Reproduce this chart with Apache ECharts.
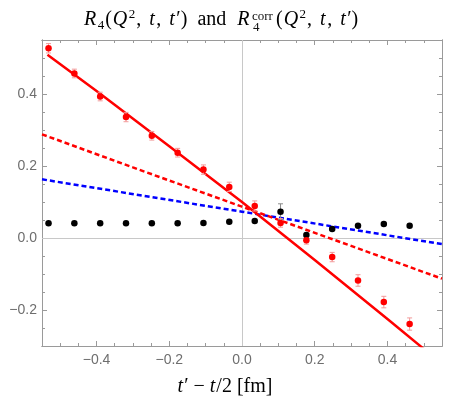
<!DOCTYPE html>
<html>
<head>
<meta charset="utf-8">
<script src="https://cdn.jsdelivr.net/npm/echarts@6/dist/echarts.min.js"></script>
<style>
html, body { margin: 0; padding: 0; background: #fff; }
#main { width: 462px; height: 415px; }
</style>
</head>
<body>
<div id="main"></div>
<script>
// t' - t/2 positions [fm]
var tValues = [-0.532, -0.461, -0.390, -0.319, -0.248, -0.177, -0.106, -0.035,
               0.035, 0.106, 0.177, 0.248, 0.319, 0.390, 0.461];
// R4 (red) and R4corr (black) with errors
var r4Values = [0.527, 0.457, 0.393, 0.336, 0.284, 0.237, 0.190, 0.142,
                0.089, 0.042, -0.006, -0.053, -0.118, -0.178, -0.239];
var r4Errors = [0.013, 0.012, 0.012, 0.013, 0.012, 0.012, 0.013, 0.013,
                0.014, 0.012, 0.011, 0.013, 0.016, 0.016, 0.017];
var corrValues = [0.041, 0.041, 0.041, 0.041, 0.041, 0.041, 0.042, 0.045,
                  0.047, 0.073, 0.008, 0.025, 0.034, 0.039, 0.034];
var corrErrors = [0.002, 0.002, 0.002, 0.002, 0.002, 0.002, 0.002, 0.003,
                  0.004, 0.022, 0.005, 0.004, 0.003, 0.003, 0.003];

// fit curves
var fitSolidX = [-0.535, -0.4, -0.2, 0, 0.2, 0.4, 0.5];
var fitSolidY = [0.509, 0.408, 0.255, 0.100, -0.061, -0.225, -0.308];
var fitRedX = [-0.55, -0.3, 0, 0.3, 0.55];
var fitRedY = [0.288, 0.196, 0.087, -0.022, -0.113];
var fitBlueX = [-0.55, 0, 0.55];
var fitBlueY = [0.163, 0.073, -0.017];

// ticks
var xMajor = [-0.4, -0.2, 0, 0.2, 0.4];
var xMinor = [-0.5, -0.45, -0.35, -0.3, -0.25, -0.15, -0.1, -0.05,
              0.05, 0.1, 0.15, 0.25, 0.3, 0.35, 0.45, 0.5];
var yMajor = [-0.2, 0, 0.2, 0.4];
var yMinor = [-0.25, -0.15, -0.1, -0.05, 0.05, 0.1, 0.15, 0.25, 0.3, 0.35, 0.45, 0.5];

var axisGray = '#9a9a9a';
var serif = 'Liberation Serif';

function fmt(v) {
    return v.toFixed(1).replace('-', '\u2212');
}

function makeAxis(dim, pos, ticks, len, withLabels) {
    var ax = {
        type: 'value',
        position: pos,
        min: dim === 'x' ? -0.55 : -0.3,
        max: 0.55,
        axisLine: { show: true, onZero: false, lineStyle: { color: axisGray, width: 1 } },
        axisTick: { show: true, inside: true, length: len, customValues: ticks,
                    lineStyle: { color: axisGray, width: 1 } },
        axisLabel: { show: withLabels },
        splitLine: { show: false }
    };
    if (withLabels) {
        ax.axisLabel = {
            show: true, customValues: ticks, formatter: fmt,
            color: '#6e6e6e', fontSize: 14, fontFamily: 'Liberation Sans',
            margin: dim === 'x' ? 7 : 5
        };
    }
    return ax;
}

function pairs(xs, ys) {
    return xs.map(function (x, i) { return [x, ys[i]]; });
}

function errorBars(vals, errs, color) {
    var data = tValues.map(function (t, i) { return [t, vals[i] - errs[i], vals[i] + errs[i]]; });
    return {
        type: 'custom',
        data: data,
        silent: true,
        z: 3,
        encode: { x: 0, y: [1, 2] },
        renderItem: function (params, api) {
            var top = api.coord([api.value(0), api.value(2)]);
            var bot = api.coord([api.value(0), api.value(1)]);
            var hw = 2.5;
            var st = { stroke: color, lineWidth: 1 };
            return {
                type: 'group',
                children: [
                    { type: 'line', shape: { x1: top[0], y1: top[1], x2: bot[0], y2: bot[1] }, style: st },
                    { type: 'line', shape: { x1: top[0] - hw, y1: top[1], x2: top[0] + hw, y2: top[1] }, style: st },
                    { type: 'line', shape: { x1: bot[0] - hw, y1: bot[1], x2: bot[0] + hw, y2: bot[1] }, style: st }
                ]
            };
        }
    };
}

// rich styles for the math-looking title (wider spacing, like TeX)
var titleRich = {
    n: { fontFamily: serif, fontSize: 20, lineHeight: 24, color: '#111' },
    c: { fontFamily: serif, fontSize: 20, lineHeight: 24, color: '#111', padding: [0, 2, 0, 0] },
    i: { fontFamily: serif, fontSize: 20, fontStyle: 'italic', lineHeight: 24, color: '#111', padding: [0, 1.5, 0, 1] },
    sub: { fontFamily: serif, fontSize: 13, lineHeight: 9, verticalAlign: 'bottom', color: '#111', padding: [0, 1, 0, 0] },
    sup: { fontFamily: serif, fontSize: 13, lineHeight: 19, verticalAlign: 'top', color: '#111', padding: [0, 1, 0, 0] }
};
var nameRich = {
    n: { fontFamily: serif, fontSize: 20, lineHeight: 24, color: '#111' },
    i: { fontFamily: serif, fontSize: 20, fontStyle: 'italic', lineHeight: 24, color: '#111', padding: [0, 1, 0, 0] }
};

var myChart = echarts.init(document.getElementById('main'));
var option = {
    animation: false,
    backgroundColor: '#fff',
    grid: { left: 42, right: 20, top: 40, bottom: 69 },
    xAxis: [
        makeAxis('x', 'bottom', xMajor, 5, true),
        makeAxis('x', 'bottom', xMinor, 3, false),
        makeAxis('x', 'top', xMajor, 5, false),
        makeAxis('x', 'top', xMinor, 3, false)
    ],
    yAxis: [
        makeAxis('y', 'left', yMajor, 5, true),
        makeAxis('y', 'left', yMinor, 3, false),
        makeAxis('y', 'right', yMajor, 5, false),
        makeAxis('y', 'right', yMinor, 3, false)
    ],
    graphic: [
        {
            type: 'text', x: 251, y: 19.7,
            style: {
                text: '{i|R}{sub|4}{n|(}{i|Q}{sup|2}{c|, }{i|t}{c|, }{i|t}{n|\u2032)  and  }{i|R}',
                rich: titleRich, align: 'right', verticalAlign: 'middle'
            }
        },
        { type: 'text', x: 252, y: 16.5,
          style: { text: 'corr', fontFamily: serif, fontSize: 13, fill: '#111', align: 'left', verticalAlign: 'middle' } },
        { type: 'text', x: 253, y: 27.5,
          style: { text: '4', fontFamily: serif, fontSize: 13, fill: '#111', align: 'left', verticalAlign: 'middle' } },
        {
            type: 'text', x: 276, y: 19.7,
            style: {
                text: '{n|(}{i|Q}{sup|2}{c|, }{i|t}{c|, }{i|t}{n|\u2032)}',
                rich: titleRich, align: 'left', verticalAlign: 'middle'
            }
        },
        {
            type: 'text', x: 225, y: 387,
            style: {
                text: '{i|t}{n|\u2032 \u2212 }{i|t}{n|/2 [fm]}',
                rich: nameRich, align: 'center', verticalAlign: 'middle'
            }
        }
    ],
    series: [
        {
            type: 'scatter',
            name: 'R4corr',
            data: pairs(tValues, corrValues),
            symbolSize: 6.5,
            itemStyle: { color: '#000', opacity: 1 },
            z: 4,
            markLine: {
                silent: true,
                symbol: ['none', 'none'],
                label: { show: false },
                lineStyle: { color: '#c8c8c8', width: 1, type: 'solid' },
                data: [{ xAxis: 0 }, { yAxis: 0 }],
                z: 1
            }
        },
        errorBars(corrValues, corrErrors, '#8a8a8a'),
        errorBars(r4Values, r4Errors, '#f29a9a'),
        {
            type: 'line', name: 'fit blue',
            data: pairs(fitBlueX, fitBlueY),
            showSymbol: false, clip: true, z: 2,
            lineStyle: { color: '#0000ff', width: 2.5, type: [5, 3] }
        },
        {
            type: 'line', name: 'fit red dashed',
            data: pairs(fitRedX, fitRedY),
            showSymbol: false, clip: true, z: 2,
            lineStyle: { color: '#ff0000', width: 2.5, type: [5, 3] }
        },
        {
            type: 'line', name: 'fit red',
            data: pairs(fitSolidX, fitSolidY),
            showSymbol: false, clip: true, z: 2,
            lineStyle: { color: '#ff0000', width: 2.5 }
        },
        {
            type: 'scatter',
            name: 'R4',
            data: pairs(tValues, r4Values),
            symbolSize: 6.5,
            itemStyle: { color: '#ff0000', opacity: 1 },
            z: 4
        }
    ]
};
myChart.setOption(option);
</script>
</body>
</html>
